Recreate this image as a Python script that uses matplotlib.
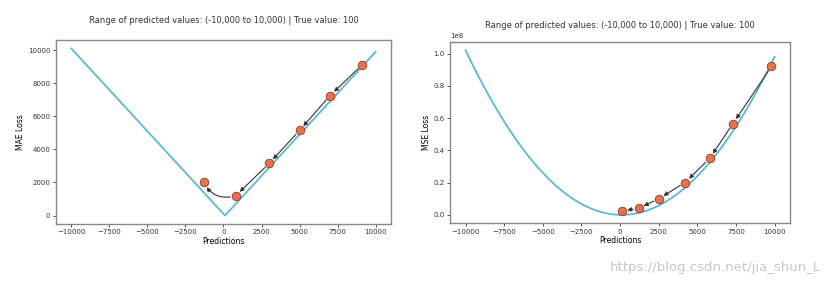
import numpy as np
import matplotlib
matplotlib.use("Agg")
import matplotlib.pyplot as plt

true_value = 100
x_range = np.linspace(-10000, 10000, 401)

# gradient descent steps
mae_x = [9100, 7000, 5000, 3000, 800, -1300]
mae_y = [9100, 7250, 5150, 3150, 1200, 2000]
mse_x = [9800, 7300, 5800, 4200, 2500, 1200, 100]
mse_y = [0.92e8, 0.565e8, 0.35e8, 0.20e8, 0.10e8, 0.04e8, 0.025e8]

line_col = "#5bb8d8"
pt_col = "#e8734d"

fig = plt.figure(figsize=(8.29, 2.86), dpi=100)
ax1 = fig.add_axes([0.0676, 0.217, 0.404, 0.643])
ax2 = fig.add_axes([0.543, 0.22, 0.410, 0.633])

def draw(ax, xs, ys, loss, ylabel, pad, curvy_last=False):
	ax.plot(x_range, loss, color=line_col, lw=1.3, zorder=1)
	for i in range(len(xs) - 1):
		style = "arc3,rad=0"
		if curvy_last and i == len(xs) - 2:
			style = "arc3,rad=-0.4"
		ax.annotate("", xy=(xs[i + 1], ys[i + 1]), xytext=(xs[i], ys[i]),
			arrowprops=dict(arrowstyle="-|>", color="#333333", lw=0.8,
				mutation_scale=6, shrinkA=4, shrinkB=4,
				connectionstyle=style), zorder=2)
	ax.scatter(xs, ys, s=38, color=pt_col, edgecolor="#8a3a20", linewidth=0.6, zorder=3)
	ax.set_title("Range of predicted values: (-10,000 to 10,000) | True value: 100",
		fontsize=6, color="#333333", pad=pad)
	ax.set_xlabel("Predictions", fontsize=5.5, labelpad=1)
	ax.set_ylabel(ylabel, fontsize=5.5, labelpad=2)
	ax.set_xticks([-10000, -7500, -5000, -2500, 0, 2500, 5000, 7500, 10000])
	ax.tick_params(labelsize=5, length=2.5, width=0.6, pad=1.5, colors="#333333")
	for s in ax.spines.values():
		s.set_color("#888888")
		s.set_linewidth(1.0)

draw(ax1, mae_x, mae_y, np.abs(x_range - true_value), "MAE Loss", 12, curvy_last=True)
draw(ax2, mse_x, mse_y, (x_range - true_value) ** 2, "MSE Loss", 10)
ax1.set_yticks([0, 2000, 4000, 6000, 8000, 10000])
ax2.set_yticks([0, 0.2e8, 0.4e8, 0.6e8, 0.8e8, 1.0e8])
ax2.yaxis.get_offset_text().set_fontsize(5)

fig.text(0.99, 0.063, "https://blog.csdn.net/jia_shun_L", ha="right", va="center",
	fontsize=9.5, color="#c8c8c8")

fig.savefig("out.png", dpi=100)
